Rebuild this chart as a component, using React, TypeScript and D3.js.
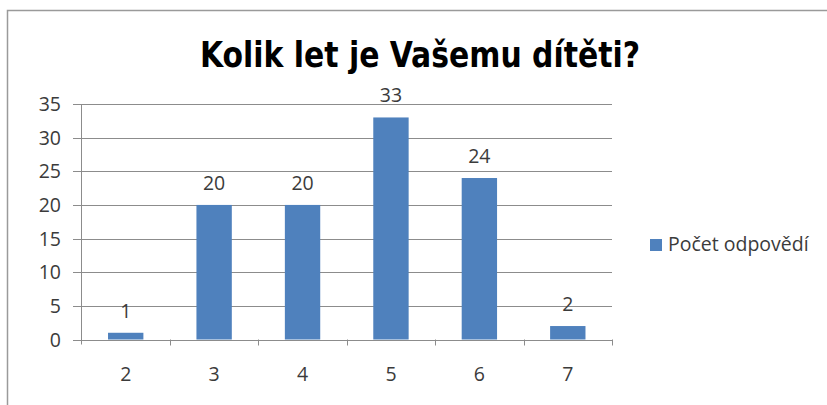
import React, { useEffect, useRef } from "react";
import * as d3 from "d3";

const categories = ["2", "3", "4", "5", "6", "7"];
const values = [1, 20, 20, 33, 24, 2];
const yTicks = [0, 5, 10, 15, 20, 25, 30, 35];
const seriesName = "Počet odpovědí";
const title = "Kolik let je Vašemu dítěti?";

export default function App() {
  const ref = useRef<SVGSVGElement | null>(null);

  useEffect(() => {
    const width = 827;
    const height = 405;
    const svg = d3.select(ref.current);
    svg.selectAll("*").remove();

    const font = "'Open Sans', 'Liberation Sans', sans-serif";
    const fontSize = 19.5;
    const textColor = "#3b3b3b";
    const gridColor = "#8c8c8c";
    const barColor = "#4f81bd";

    // chart frame (runs off the right and bottom of the picture)
    svg
      .append("rect")
      .attr("x", 7.5)
      .attr("y", 10.5)
      .attr("width", width + 20)
      .attr("height", height + 20)
      .attr("fill", "white")
      .attr("stroke", "#9a9a9a")
      .attr("stroke-width", 1.5);

    // title, squeezed to the width of the original's narrow face
    svg
      .append("text")
      .attr("x", 200)
      .attr("y", 67)
      .attr("font-family", "'Liberation Sans Narrow', 'DejaVu Sans Condensed', sans-serif")
      .attr("font-weight", "bold")
      .attr("font-size", 36)
      .attr("textLength", 440)
      .attr("lengthAdjust", "spacingAndGlyphs")
      .attr("fill", "#000")
      .text(title);

    const x = d3
      .scaleBand()
      .domain(categories)
      .range([81.5, 612])
      .paddingInner(0.6)
      .paddingOuter(0.3);

    const y = d3.scaleLinear().domain([0, 35]).range([339.5, 104]);

    // horizontal gridlines + y tick marks
    svg
      .append("g")
      .selectAll("line")
      .data(yTicks)
      .join("line")
      .attr("x1", 73)
      .attr("x2", 612)
      .attr("y1", (d) => Math.round(y(d)) + 0.5)
      .attr("y2", (d) => Math.round(y(d)) + 0.5)
      .attr("stroke", gridColor)
      .attr("stroke-width", 1);

    svg
      .append("g")
      .selectAll("text")
      .data(yTicks)
      .join("text")
      .attr("x", 61)
      .attr("y", (d) => y(d))
      .attr("dy", "0.36em")
      .attr("text-anchor", "end")
      .attr("font-family", font)
      .attr("font-size", fontSize)
      .attr("fill", textColor)
      .text((d) => d);

    // y axis line
    svg
      .append("line")
      .attr("x1", 81.5)
      .attr("x2", 81.5)
      .attr("y1", y(35))
      .attr("y2", y(0) + 5)
      .attr("stroke", gridColor);

    // x tick marks at category boundaries
    const bounds = categories.map((c) => x(c)! - (x.step() * x.paddingInner()) / 2);
    bounds.push(612);
    svg
      .append("g")
      .selectAll("line")
      .data(bounds.slice(1))
      .join("line")
      .attr("x1", (d) => Math.round(d) + 0.5)
      .attr("x2", (d) => Math.round(d) + 0.5)
      .attr("y1", y(0))
      .attr("y2", y(0) + 6)
      .attr("stroke", gridColor);

    // bars
    svg
      .append("g")
      .selectAll("rect")
      .data(values)
      .join("rect")
      .attr("x", (d, i) => x(categories[i])!)
      .attr("y", (d) => y(d))
      .attr("width", x.bandwidth())
      .attr("height", (d) => y(0) - y(d))
      .attr("fill", barColor);

    // data labels
    svg
      .append("g")
      .selectAll("text")
      .data(values)
      .join("text")
      .attr("x", (d, i) => x(categories[i])! + x.bandwidth() / 2)
      .attr("y", (d) => y(d) - 15)
      .attr("text-anchor", "middle")
      .attr("font-family", font)
      .attr("font-size", fontSize)
      .attr("fill", textColor)
      .text((d) => d);

    // x labels
    svg
      .append("g")
      .selectAll("text")
      .data(categories)
      .join("text")
      .attr("x", (d) => x(d)! + x.bandwidth() / 2)
      .attr("y", 381)
      .attr("text-anchor", "middle")
      .attr("font-family", font)
      .attr("font-size", fontSize)
      .attr("fill", textColor)
      .text((d) => d);

    // legend
    svg
      .append("rect")
      .attr("x", 650)
      .attr("y", 239)
      .attr("width", 12)
      .attr("height", 12)
      .attr("fill", barColor);

    svg
      .append("text")
      .attr("x", 668)
      .attr("y", 251)
      .attr("font-family", font)
      .attr("font-size", fontSize)
      .attr("fill", textColor)
      .text(seriesName);
  }, []);

  return (
    <div style={{ position: "absolute", left: 0, top: 0 }}>
      <svg ref={ref} width={827} height={405} style={{ display: "block" }} />
    </div>
  );
}
